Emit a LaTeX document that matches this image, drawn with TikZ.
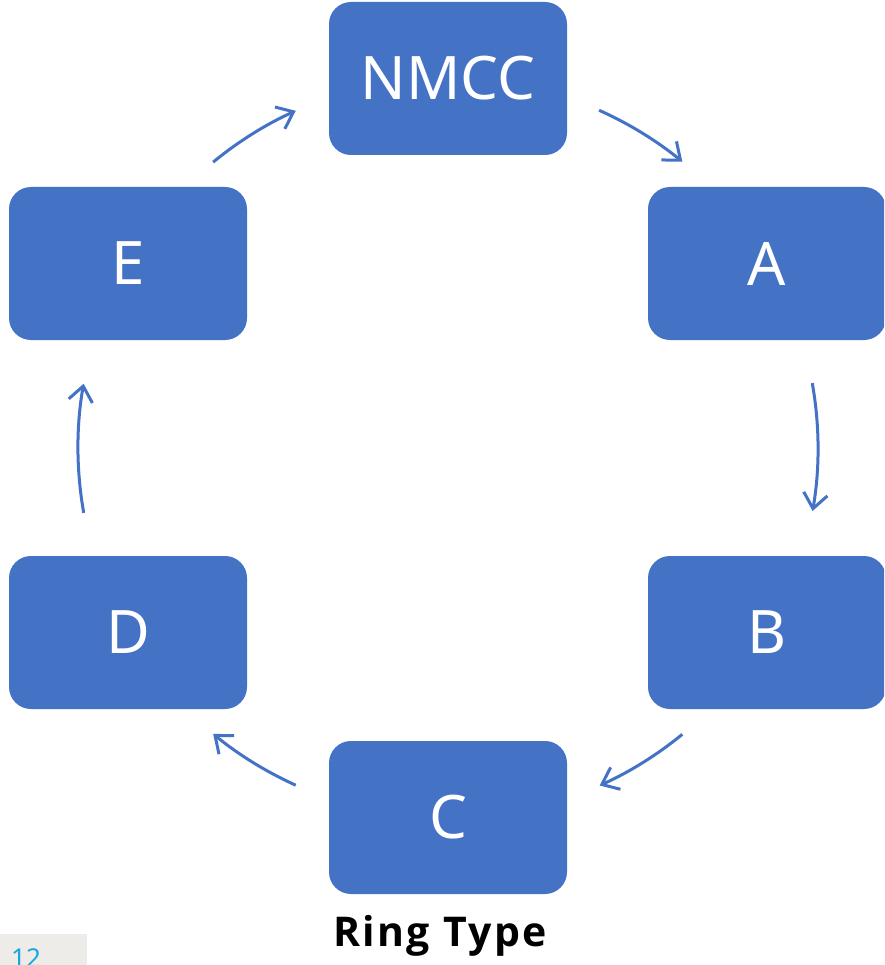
\documentclass[tikz,border=0pt]{standalone}
\usepackage{fontspec}
\setmainfont{Noto Sans}
\newfontfamily\titlefont{Open Sans}[LetterSpace=6]
\usetikzlibrary{arrows.meta,calc}
\definecolor{boxblue}{HTML}{4472C4}
\definecolor{pagecyan}{HTML}{1AA7DF}
\definecolor{pagegray}{HTML}{EEECE8}
\tikzset{
  ringbox/.style={rectangle, rounded corners=22pt, fill=boxblue, draw=none,
    minimum width=238pt, minimum height=153pt, inner sep=0pt,
    text=white, font=\fontsize{60}{66}\selectfont},
  ringarrow/.style={draw=boxblue, line width=3pt,
    -{Straight Barb[length=15pt,width=24pt,line width=3pt]}}
}
\begin{document}
\begin{tikzpicture}[x=1pt,y=-1pt]
\useasboundingbox (0,0) rectangle (884,965);
\clip (0,0) rectangle (884,965);
\fill[white] (0,0) rectangle (884,965);
\node[ringbox] (nmcc) at (448,78.5) {NMCC};
\node[ringbox] (a) at (767,263.5) {A};
\node[ringbox] (b) at (767,632.5) {B};
\node[ringbox] (c) at (448,817.5) {C};
\node[ringbox] (d) at (128,632.5) {D};
\node[ringbox] (e) at (128,263.5) {E};
\coordinate (ctr) at (448,448);
% arcs on a circle of radius 370 around ctr (y axis points down, so angles are mirrored)
\coordinate (e1) at ($(ctr)+(-129.4:370)$);
\coordinate (n1) at ($(ctr)+(-65.9:370)$);
\coordinate (a1) at ($(ctr)+(-10.1:370)$);
\coordinate (b1) at ($(ctr)+(50.7:370)$);
\coordinate (c1) at ($(ctr)+(114.3:370)$);
\coordinate (d1) at ($(ctr)+(169.9:370)$);
\draw[ringarrow] (e1) arc[start angle=-129.4, end angle=-114.3, radius=370];
\draw[ringarrow] (n1) arc[start angle=-65.9, end angle=-50.7, radius=370];
\draw[ringarrow] (a1) arc[start angle=-10.1, end angle=9.8, radius=370];
\draw[ringarrow] (b1) arc[start angle=50.7, end angle=65.8, radius=370];
\draw[ringarrow] (c1) arc[start angle=114.3, end angle=129.4, radius=370];
\draw[ringarrow] (d1) arc[start angle=169.9, end angle=190.0, radius=370];
\node[font=\titlefont\fontsize{41}{44}\selectfont\bfseries, anchor=base] (title) at (440,946) {Ring Type};
\fill[pagegray] (0,934) rectangle (87,965);
\node[font=\fontsize{26}{30}\selectfont, text=pagecyan, anchor=base west, inner sep=0pt] (pg) at (11,967) {12};
\end{tikzpicture}
\end{document}
